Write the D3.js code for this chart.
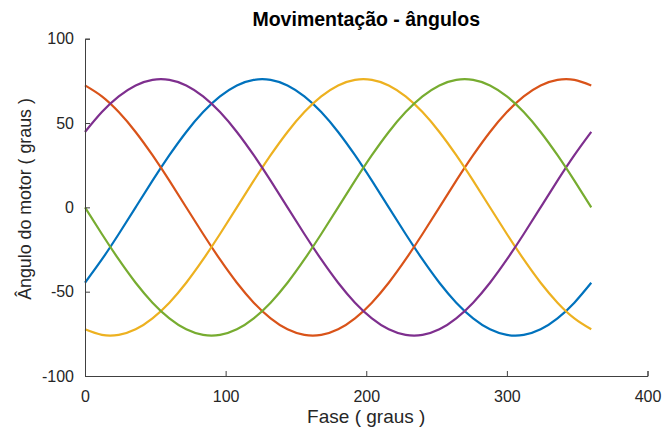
<!DOCTYPE html>
<html>
<head>
<meta charset="utf-8">
<script src="https://cdn.jsdelivr.net/npm/d3@7/dist/d3.min.js"></script>
<style>
  html, body { margin: 0; padding: 0; background: #fff; }
  svg { display: block; font-family: "Liberation Sans", Arial, Helvetica, sans-serif; }
</style>
</head>
<body>
<svg id="chart" width="664" height="430"></svg>
<script>
// Phase angle samples (degrees)
const fase = d3.range(0, 361, 12);

// Motor angle for each of the five phases (degrees)
const serieAzul = [-44.7, -30.9, -15.8, 0, 15.8, 30.9, 44.7, 56.5, 65.8, 72.3, 75.6, 75.6, 72.3, 65.8, 56.5, 44.7, 30.9, 15.8, 0, -15.8, -30.9, -44.7, -56.5, -65.8, -72.3, -75.6, -75.6, -72.3, -65.8, -56.5, -44.7];
const serieLaranja = [72.3, 65.8, 56.5, 44.7, 30.9, 15.8, 0, -15.8, -30.9, -44.7, -56.5, -65.8, -72.3, -75.6, -75.6, -72.3, -65.8, -56.5, -44.7, -30.9, -15.8, 0, 15.8, 30.9, 44.7, 56.5, 65.8, 72.3, 75.6, 75.6, 72.3];
const serieAmarela = [-72.3, -75.6, -75.6, -72.3, -65.8, -56.5, -44.7, -30.9, -15.8, 0, 15.8, 30.9, 44.7, 56.5, 65.8, 72.3, 75.6, 75.6, 72.3, 65.8, 56.5, 44.7, 30.9, 15.8, 0, -15.8, -30.9, -44.7, -56.5, -65.8, -72.3];
const serieRoxa = [44.7, 56.5, 65.8, 72.3, 75.6, 75.6, 72.3, 65.8, 56.5, 44.7, 30.9, 15.8, 0, -15.8, -30.9, -44.7, -56.5, -65.8, -72.3, -75.6, -75.6, -72.3, -65.8, -56.5, -44.7, -30.9, -15.8, 0, 15.8, 30.9, 44.7];
const serieVerde = [0, -15.8, -30.9, -44.7, -56.5, -65.8, -72.3, -75.6, -75.6, -72.3, -65.8, -56.5, -44.7, -30.9, -15.8, 0, 15.8, 30.9, 44.7, 56.5, 65.8, 72.3, 75.6, 75.6, 72.3, 65.8, 56.5, 44.7, 30.9, 15.8, 0];

const series = [serieAzul, serieLaranja, serieAmarela, serieRoxa, serieVerde];
const cores = ["#0072BD", "#D95319", "#EDB120", "#7E2F8E", "#77AC30"];

const xTicks = [0, 100, 200, 300, 400];
const yTicks = [-100, -50, 0, 50, 100];

const titulo = "Movimentação - ângulos";
const rotuloX = "Fase ( graus )";
const rotuloY = "Ângulo do motor ( graus )";

// Layout
const margem = { left: 85, right: 16.5, top: 38.7, bottom: 54 };
const W = 664, H = 430;

const svg = d3.select("#chart");

const x = d3.scaleLinear().domain([0, 400]).range([margem.left, W - margem.right]);
const y = d3.scaleLinear().domain([-100, 100]).range([H - margem.bottom, margem.top]);

const corEixo = "#404040";
// plain hyphen for negative tick labels
const fmt = d => String(d);

// Curves
const linha = d3.line()
  .x((d, i) => x(fase[i]))
  .y(d => y(d))
  .curve(d3.curveNatural);

svg.append("g")
  .selectAll("path")
  .data(series)
  .join("path")
  .attr("d", linha)
  .attr("fill", "none")
  .attr("stroke", (d, i) => cores[i])
  .attr("stroke-width", 2.2)
  .attr("stroke-linejoin", "round");

// Axes with inward ticks
const eixoX = svg.append("g")
  .attr("transform", `translate(0,${y(-100)})`)
  .call(d3.axisBottom(x).tickValues(xTicks).tickSize(-5).tickPadding(15).tickFormat(fmt));

const eixoY = svg.append("g")
  .attr("transform", `translate(${x(0)},0)`)
  .call(d3.axisLeft(y).tickValues(yTicks).tickSize(-5).tickPadding(11).tickFormat(fmt));

[eixoX, eixoY].forEach(g => {
  g.select(".domain").attr("stroke", corEixo).attr("stroke-width", 1);
  g.selectAll(".tick line").attr("stroke", corEixo).attr("stroke-width", 1);
  g.selectAll(".tick text")
    .attr("fill", "#262626")
    .style("font-size", "16px")
    .style("font-family", "'Liberation Sans', Arial, sans-serif");
});

// Title
svg.append("text")
  .attr("x", (x(0) + x(400)) / 2)
  .attr("y", 25.5)
  .attr("text-anchor", "middle")
  .style("font-size", "19.5px")
  .style("font-weight", "bold")
  .attr("fill", "#000")
  .text(titulo);

// Axis labels
svg.append("text")
  .attr("x", (x(0) + x(400)) / 2)
  .attr("y", 423)
  .attr("text-anchor", "middle")
  .style("font-size", "19px")
  .attr("fill", "#262626")
  .text(rotuloX);

svg.append("text")
  .attr("transform", `translate(31,199) rotate(-90)`)
  .attr("text-anchor", "middle")
  .style("font-size", "17.8px")
  .attr("fill", "#262626")
  .text(rotuloY);
</script>
</body>
</html>
